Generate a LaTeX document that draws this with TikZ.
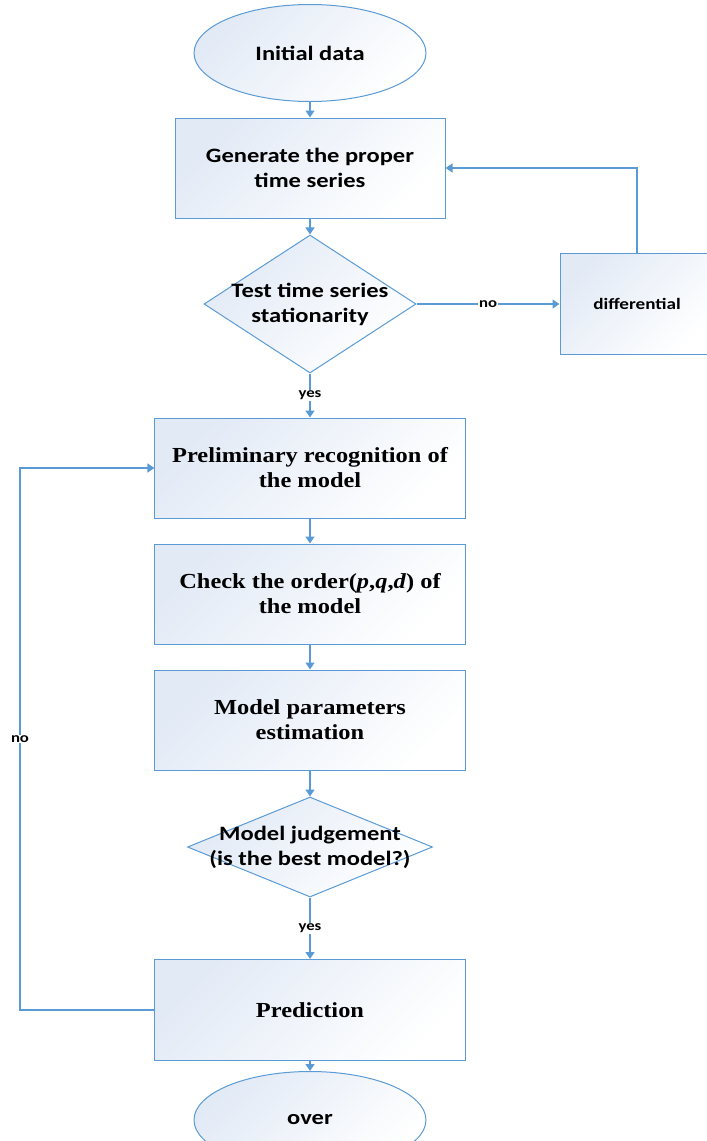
\documentclass[tikz,border=0pt]{standalone}
\usepackage{fontspec}
\setmainfont[FakeStretch=1.14]{Liberation Serif}
\newfontfamily\calib[FakeStretch=1.2]{Carlito}
\usetikzlibrary{shapes.geometric, arrows.meta, calc}
\definecolor{flowblue}{RGB}{91,155,213}
\definecolor{shadeblue}{RGB}{226,234,246}
\tikzset{
    shadefill/.style = {draw=flowblue, line width=1bp, left color=shadeblue, right color=white, shading angle=45},
    procbox/.style = {shadefill, rectangle, minimum width=310bp, minimum height=100bp, inner sep=0pt,
        align=center, font=\fontsize{21.5}{25}\selectfont\bfseries},
    sansbox/.style = {procbox, font=\calib\fontsize{20.5}{25}\selectfont\bfseries},
    terminal/.style = {shadefill, ellipse, minimum width=232bp, minimum height=97bp, inner sep=0pt,
        font=\calib\fontsize{20.5}{25}\selectfont\bfseries},
    judge/.style = {shadefill, diamond, inner sep=0pt},
    judgetext/.style = {align=center, font=\calib\fontsize{20.5}{25}\selectfont\bfseries},
    flow/.style = {draw=flowblue, line width=1.3bp, -{Triangle[length=7bp,width=9bp]}},
    tag/.style = {fill=white, inner sep=1bp, font=\calib\fontsize{14}{16}\selectfont\bfseries},
}
\begin{document}
\begin{tikzpicture}[x=1bp, y=-1bp]
\useasboundingbox (0,0) rectangle (707,1141);
\clip (0,0) rectangle (707,1141);

\node[terminal] (init) at (310,53) {Initial data};
\node[sansbox, minimum width=270bp] (gen) at (310,168) {Generate the proper\\time series};
\node[judge, minimum width=212bp, minimum height=138bp,
    label={[judgetext]center:Test time series\\stationarity}] (test) at (310,304) {};
\node[sansbox, minimum width=154bp, minimum height=101bp,
    font=\calib\fontsize{16}{19}\selectfont\bfseries] (diff) at (637,304) {differential};

\node[procbox] (prelim) at (310,468) {Preliminary recognition of\\the model};
\node[procbox] (order) at (310,594) {Check the order(\textit{p},\textit{q},\textit{d}) of\\the model};
\node[procbox] (param) at (310,720) {Model parameters\\estimation};
\node[judge, minimum width=245bp, minimum height=100bp,
    label={[judgetext]center:Model judgement\\(is the best model?)}] (best) at (310,847) {};
\node[procbox, minimum height=101bp] (pred) at (310,1010) {Prediction};
\node[terminal] (over) at (310,1120) {over};

\draw[flow] (init) -- (gen);
\draw[flow] (gen) -- (test);
\draw[flow] (test.south) -- node[tag] (yes1) {yes} (prelim.north);
\draw[flow] (test.east) -- node[tag] (no1) {no} (diff.west);
\draw[flow] (diff.north) |- (gen.east);
\draw[flow] (prelim) -- (order);
\draw[flow] (order) -- (param);
\draw[flow] (param) -- (best);
\draw[flow] (best.south) -- node[tag] (yes2) {yes} (pred.north);
\draw[flow] (pred) -- (over);

\coordinate (loop) at (20,1010);
\draw[flow] (pred.west) -- (loop) |- node[tag, pos=0.25] (no2) {no} (prelim.west);
\end{tikzpicture}
\end{document}
